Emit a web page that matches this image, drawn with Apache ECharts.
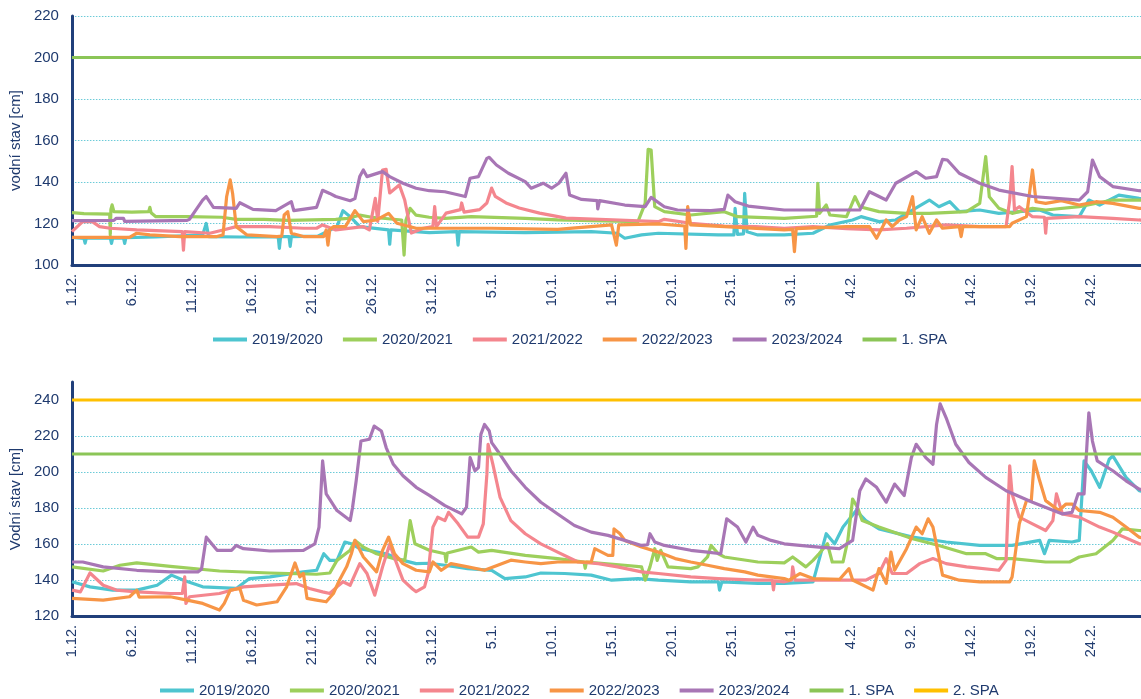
<!DOCTYPE html>
<html>
<head>
<meta charset="utf-8">
<script src="https://cdn.jsdelivr.net/npm/echarts@6/dist/echarts.min.js"></script>
<style>
html,body{margin:0;padding:0;background:#fff;}
#chart{width:1141px;height:699px;}
</style>
</head>
<body>
<div id="chart"></div>
<script>
// Day index 0 = 1 December; one unit = one day.
var xLabels = ['1.12.','6.12.','11.12.','16.12.','21.12.','26.12.','31.12.','5.1.','10.1.','15.1.','20.1.','25.1.','30.1.','4.2.','9.2.','14.2.','19.2.','24.2.'];
var seasons = ['2019/2020','2020/2021','2021/2022','2022/2023','2023/2024'];
var spa1Top = 200;
var spa1Bottom = 210;
var spa2Bottom = 240;
var seasonEnd = 91;

// Upper station water levels [day, cm]
var top2019 = [[0,113.3],[1,112.8],[1.1,110.5],[1.2,113],[3.2,113],[3.3,110.4],[3.4,113],[4.3,113],[4.4,110.4],[4.5,113.2],[7,113.5],[10.9,114.5],[11.2,120],[11.4,113.7],[14,113.5],[17.2,113.7],[17.3,108],[17.4,113.7],[18.1,113.7],[18.2,109],[18.3,113.7],[20.5,113.9],[21,115.3],[22.1,118.5],[22.6,126.2],[23.2,123.3],[24,118.5],[26.4,116.9],[26.5,110],[26.6,116.9],[29.8,115.6],[32.1,116.1],[32.2,109.6],[32.3,116.1],[37.8,115.6],[43.3,116.1],[45.5,115.3],[46.1,112.9],[47.5,114.5],[48.9,115.3],[53.9,114.5],[55.2,114.5],[55.3,127.3],[55.5,114.8],[56,115],[56.1,134.5],[56.3,116],[57.2,114.5],[59.4,114.5],[61.8,115.3],[63.2,119.3],[65.1,121.7],[65.8,123.3],[67.3,120.9],[68.7,121.7],[71.5,131.3],[72.3,128.1],[73.2,130.5],[74,125.7],[75.7,126.5],[77.3,124.9],[79,125.7],[80.7,126.5],[81.8,124.1],[84,123.3],[84.8,131.3],[85.7,128.9],[87.3,133.7],[89,132.1],[90,131.5]];
var top2020 = [[0,125.2],[1,124.8],[3.15,124.5],[3.2,114.5],[3.25,126.8],[3.35,129],[3.5,125.7],[5,125.5],[6.4,125.7],[6.5,127.8],[6.6,125.2],[7,123.3],[9.6,123.3],[12.5,123],[13.7,122],[16,122],[18,121.5],[22,122],[23,122.5],[24,124],[25,123],[27.5,121.7],[27.7,104.8],[27.85,121.5],[28.2,127.3],[28.7,124],[29.8,123],[31.1,122.5],[33.3,123.3],[37.8,122.5],[40.5,121.7],[47.2,120.9],[47.8,129.7],[48.05,155.7],[48.3,155.4],[48.6,128.1],[49.4,125.7],[51.6,124.1],[54.4,125.7],[55.5,123.3],[59.4,122.5],[62.1,123.5],[62.2,139.4],[62.35,124.9],[62.9,128.9],[63.2,124.1],[64.6,123.3],[65.3,132.9],[65.7,128.1],[67.3,125.7],[69.6,124.9],[71.5,124.9],[74.6,125.7],[75.7,129.7],[76.2,152.2],[76.5,132.9],[77.3,127.3],[78.4,124.9],[80.1,127.3],[81.2,126.5],[84,128.1],[86.8,131.3],[89,131.3],[90,131]];
var top2021 = [[0,116.1],[0.9,120.9],[1.7,120.9],[2.3,118.5],[3.2,117.7],[5.4,116.9],[9.2,116.1],[9.3,107.2],[9.4,116.1],[11.5,115.3],[12.6,116.9],[13.7,118.5],[16.5,118.5],[19.3,117.7],[20.4,117.7],[20.9,119.3],[22,116.9],[24.3,118.5],[24.8,116.9],[25.3,132.1],[25.5,121],[25.9,145.8],[26.2,146.1],[26.5,134.7],[27.3,138.6],[27.75,131.3],[28.3,115.4],[29.3,117.7],[30.1,118.5],[30.25,128.1],[30.4,118.5],[31.2,125],[32.4,126.7],[32.5,129.9],[32.7,125.5],[34,126.7],[34.6,129.9],[35,137.1],[35.3,133.1],[36.2,129.9],[37.3,127.5],[39,125],[41.2,122.6],[45.1,121.8],[48.9,120.9],[49.4,122],[51.6,120.1],[54.4,118.8],[57,118.5],[59.4,117.7],[61.8,118.5],[64.6,117.5],[67.3,116.9],[69.6,117.7],[72.9,119.3],[75.7,118.5],[77.9,118.5],[78.2,131.3],[78.4,147.4],[78.6,126.5],[79,128.1],[80.1,123.3],[81.1,123],[81.2,115.3],[81.3,122.5],[84,123.3],[86.8,122.5],[89,121.7],[90,121.5]];
var top2022 = [[0,113.3],[4.8,113.3],[5.4,115.3],[6.5,114.5],[9,113.7],[12.1,113.7],[12.6,114.5],[12.9,132.9],[13.2,141],[13.4,134.5],[13.7,118.5],[14.6,114.5],[17.1,113.7],[17.5,113.9],[17.7,124.1],[18,125.7],[18.3,115.3],[19.3,113.7],[21,113.7],[21.2,116.9],[21.35,109.6],[21.5,117],[21.8,118.5],[22.8,118.5],[23.6,126.2],[24.3,120.9],[25.4,121.7],[26.4,124.9],[27.1,120.1],[28.7,117.7],[29.8,117.7],[35,117.7],[40.5,117.2],[45,119.3],[45.4,109.6],[45.6,119.3],[48.9,119.8],[51.1,118.8],[51.2,108],[51.35,128.1],[51.6,119.3],[54.4,118.5],[59.4,116.9],[60.1,117.2],[60.25,106.4],[60.4,117.5],[64.6,118.5],[66.5,118.5],[67.1,112.9],[67.9,121.7],[68.4,118.5],[69,121.7],[69.6,123.3],[70.1,132.9],[70.4,116.9],[70.9,123.3],[71.5,115.3],[72.1,121.7],[72.6,117.7],[74,118.5],[74.15,113.7],[74.3,118.5],[76.2,118.5],[78.2,118.5],[78.4,120.1],[79.6,123.3],[80.1,145.8],[80.4,130.5],[81.2,129.7],[82.5,131],[84,128.9],[85.4,130.5],[86.8,129.7],[89,127.3],[90,127]];
var top2023 = [[0,121.4],[3.5,121.5],[3.7,122.5],[4.3,122.5],[4.4,121],[9.6,121.5],[9.8,122],[10.9,131.3],[11.2,133],[11.8,127.8],[13.7,127.3],[14,130],[15.1,126.8],[17,126.2],[18.3,130.5],[18.5,126.2],[20.4,127.8],[20.9,136],[21.5,134.5],[22,133],[23.2,131],[23.6,132],[24,142.6],[24.3,145.8],[24.6,142.6],[25.9,145],[26.5,142.6],[27.6,139.4],[28.7,137],[29.8,135.8],[31.1,135.3],[32.8,133],[33.2,141.8],[33.9,142.6],[34.6,151.4],[34.8,151.9],[35.4,148.2],[36.4,144.2],[37.8,140.2],[38.3,137],[39.3,139.4],[40,137],[40.6,139.4],[41.2,144.2],[41.5,133.7],[42.5,131.6],[43.8,131],[43.85,127],[44,131],[46.1,128.9],[47.8,128.1],[48.3,132.6],[49.4,128.1],[50.5,126.5],[53.3,126.2],[54.4,126.8],[54.7,133.7],[55.3,130.5],[56.4,128.4],[59.4,126.5],[65.7,126.5],[66.5,135.3],[67.9,131.3],[68.7,139.4],[70.4,145],[71.2,141.8],[72.1,142.6],[72.6,150.9],[73,150.6],[74,144.2],[75.7,139.4],[77.3,136.1],[80.1,133],[84,131.3],[84.7,135.3],[85.1,150.6],[85.7,142.6],[86.8,137.8],[89,135.8],[90,135.5]];

// Lower station water levels [day, cm]
var bot2019 = [[0,139],[1.5,136.2],[3.4,134.4],[5.4,134.4],[7.1,137.1],[8.3,142.7],[9.3,139.9],[10.9,136.2],[13.7,135.3],[14.8,140.8],[16.5,141.7],[19.3,144.5],[20.4,145.4],[21,154.6],[21.5,150.9],[22.1,150.9],[22.75,161.1],[23.3,160.1],[24,157.4],[26.2,154.6],[27.6,150.9],[28.7,149.1],[29.8,149.3],[31.1,148.2],[33,146.3],[35,145.4],[36.1,140.8],[37.8,141.7],[39.1,143.9],[41.1,143.6],[43.3,142.7],[45,139.9],[47.2,140.8],[48.9,139.9],[51.6,139],[53.9,139],[54,134.4],[54.2,139],[57.2,138.1],[59.4,138.1],[61.8,139],[62.9,165.7],[63.6,160.1],[64.3,169.4],[65.4,178.6],[66.2,173],[67.3,168.4],[70.1,163.8],[72.9,161.1],[75.7,159.2],[78.4,159.2],[80.7,162],[81.1,154.6],[81.5,162],[83.4,161.1],[84,162],[84.4,206.2],[85,200.7],[85.7,191.5],[86.5,207.1],[86.8,209],[87.9,197],[89,189.6],[90,188]];
var bot2020 = [[0,147.3],[2.6,145],[4,148.2],[5.4,149.5],[8.2,147.6],[12.3,145],[16.5,143.9],[20.4,143.2],[21.5,143.9],[22.1,150.9],[23.2,156.5],[23.6,162],[24.3,158.3],[25.4,154.6],[26.8,151.9],[27.75,150.9],[28.2,173],[28.6,160.1],[29.8,156.5],[31.1,154.6],[31.2,150],[31.3,155],[33.3,158.3],[33.9,155.5],[35,156.5],[37.8,153.7],[40.5,151.9],[42.7,150],[42.8,146.5],[42.9,150],[46.1,148.2],[47.5,147.3],[47.8,139.9],[48.2,147.3],[48.6,157.4],[48.8,150.9],[49.1,156.5],[49.7,147.3],[51.6,146.3],[52.2,147.3],[53,152.8],[53.3,159.2],[53.9,154.6],[54.4,152.8],[57.2,150],[59.4,149.5],[60.1,152.8],[61.2,147.3],[61.8,150.9],[62.3,154.6],[63,160.1],[63.4,150],[64.3,150],[64.7,162],[65.1,185],[65.5,180.4],[65.9,173],[67.3,169.4],[70.1,162.9],[72.3,159.2],[74.6,154.6],[76.2,154.6],[77.1,151.9],[78.4,151.9],[81.2,150],[83.2,150],[84,152.8],[85.4,154.6],[86.8,162],[87.6,168.4],[89,167.5],[90,167]];
var bot2021 = [[0,134.4],[0.7,133.4],[1.5,143.9],[2.6,137.1],[3.7,134.4],[5.4,133.4],[8.2,132.5],[9.2,132.5],[9.4,141.7],[9.5,127],[9.8,130.7],[12.3,132.5],[14.3,136.2],[16.5,137.1],[18.7,138],[19.8,135.3],[20.9,133.4],[21.5,132.5],[22.1,136.2],[22.6,139],[23.2,137.1],[24,149.1],[24.6,143.6],[25.25,131.6],[25.9,147.3],[26.5,160],[26.8,154],[27.6,139.9],[28.4,135],[28.7,133.5],[29.4,136.2],[29.7,143.6],[30.1,169.4],[30.5,174.9],[31.1,173],[31.4,177.6],[32.2,171.2],[33,163.8],[33.9,163.8],[34.3,171.2],[34.6,198.8],[34.7,215.4],[35.1,204.3],[35.7,185.9],[36.6,173],[37.8,165.7],[39.1,160.1],[40.5,155.5],[42.2,150],[43.9,149.1],[45.5,147.3],[47.5,144.5],[48.9,143.6],[51.6,141.7],[53.9,140.8],[57.2,139.9],[58.4,139.9],[58.5,134.5],[58.6,139.5],[59.4,139],[60,139.9],[60.1,147.3],[60.3,139.9],[61.8,139.9],[64.6,139.9],[66.2,139.9],[67.3,143.6],[67.9,151.9],[68.4,143.6],[69.6,143.6],[70.7,149.1],[71.8,151.9],[72.9,149.1],[74.6,147.3],[77.3,145.4],[77.9,150.9],[78.2,203.4],[78.4,187.8],[79,174.9],[80.1,171.2],[81.2,167.5],[81.8,173],[82.1,187.8],[82.6,176.7],[84,174.9],[85.7,169.4],[86.8,166.6],[89,160.1],[90,159.5]];
var bot2022 = [[0,129.8],[2.6,128.8],[4.8,130.7],[5.4,134.4],[5.6,130.5],[8.2,130.7],[9.6,128.8],[10.9,127],[12.3,123.3],[12.7,127],[13.2,134.4],[14,135.3],[14.3,128.8],[15.4,126.1],[17.1,127.9],[17.9,136.2],[18.6,149.5],[19,141.7],[19.3,143.6],[19.6,129.8],[20.4,128.8],[21.2,127.9],[21.8,132.5],[22.3,139.9],[22.9,147.3],[23.3,154.6],[23.6,162],[24.3,152.8],[25.4,144.5],[25.9,156.5],[26.4,163.8],[26.9,154.6],[27.6,149.1],[28.7,145.4],[29.8,144.5],[30.1,150],[30.8,145.4],[31.6,149.1],[33,147.3],[34.4,145.4],[35.5,148.2],[36.6,151],[37.8,150],[39.1,149.1],[40.5,150],[43.3,150],[43.6,157.4],[44.7,153.7],[45.1,153.7],[45.2,168.4],[45.7,165.7],[46.1,162],[47.5,158.3],[48.9,155.5],[50.3,151.9],[51.6,150],[53,148.2],[54.4,146.3],[56.1,144.5],[57.2,142.7],[59.4,140.8],[59.8,139.9],[60.7,143.6],[61.8,140.8],[64,140.3],[64.8,146.3],[65.1,140],[66.8,134.4],[67.3,146.3],[67.9,138.1],[68.3,155.5],[68.6,145.4],[69.6,157.4],[70.4,169.4],[70.9,165.7],[71.4,174],[71.8,169.4],[72.3,152.8],[72.6,142.7],[74,139.9],[75.7,139],[78.2,139],[78.4,141.7],[79,171.2],[79.6,184.1],[80,184.1],[80.25,206.2],[80.7,195.1],[81.2,184.1],[82.3,178.6],[82.9,182.2],[83.4,182.2],[84,178.6],[85.7,177.6],[86.8,174.9],[87.9,169.4],[89,163.8],[90,162]];
var bot2023 = [[0,150],[0.9,150],[2.6,147.3],[5.4,145.4],[8.2,144.5],[10.5,144.5],[10.8,146],[11.2,163.8],[12.1,156.5],[13.3,156.5],[13.7,159.2],[14.3,157.4],[16.5,156.1],[19.3,156.5],[20.25,160.1],[20.6,169.4],[20.9,206.2],[21.2,187.8],[22.1,178.6],[23.2,173],[23.4,180.4],[23.7,195.1],[24.1,217.2],[24.8,218.2],[25.2,225.5],[25.8,222.8],[26.2,213.6],[26.8,204.3],[27.6,197.9],[28.7,191.5],[29.8,187],[31.1,181.3],[32.5,176.7],[32.9,180.4],[33.2,208],[33.6,200.7],[33.9,202.5],[34.1,220.9],[34.4,226.4],[34.8,222.8],[35,216.3],[35.5,211.7],[36.6,200.7],[37.8,191.5],[39.1,183.2],[40.5,176.7],[41.9,170.3],[43.3,166.6],[44.7,164.8],[46.1,162],[47.5,159.2],[48,159.6],[48.2,165.7],[48.6,161.1],[49.4,159.2],[51.6,156.5],[53,155.5],[54.1,154.6],[54.6,174],[55.5,169.4],[56.2,161.1],[56.8,169.4],[57.2,164.8],[58.3,162],[59.4,160.1],[60.7,159.2],[62.3,158.3],[64,157.4],[65.1,162],[65.7,189.6],[66.2,196.1],[67.1,191.5],[67.9,183.2],[68.6,193.3],[69.4,186.9],[70,208],[70.4,215.4],[71.2,208],[71.8,204.3],[72.1,226.4],[72.4,237.9],[72.9,230.1],[73.7,215.4],[74.8,205.3],[76.2,197],[77.9,189.6],[80.1,183.2],[82.6,176.7],[83.4,177.6],[83.9,187.8],[84.4,187.8],[84.8,232.9],[85.1,217.2],[85.5,206.2],[86.8,200.7],[87.9,195.1],[89,190.5],[90,189]];

var topData = [top2019, top2020, top2021, top2022, top2023];
var bottomData = [bot2019, bot2020, bot2021, bot2022, bot2023];

var seasonColors = ['#4ec5d0', '#9dcf5c', '#f4868e', '#f79546', '#a876b5'];
var spa1Color = '#8bc557';
var spa2Color = '#ffc000';
var inkColor = '#1f3a6e';
var axisColor = '#203f7a';
var gridColor = '#6ccbd8';
var FONT = '"Liberation Sans", Arial, sans-serif';
var X_MAX = 89.15;

function dayLabel(v) {
  var i = Math.round(v / 5);
  if (Math.abs(v - i * 5) < 1e-6 && xLabels[i]) return xLabels[i];
  return '';
}

function xAxisFor(gridIndex) {
  return {
    type: 'value', gridIndex: gridIndex, min: 0, max: X_MAX, interval: 5,
    axisLine: { show: true, onZero: false, lineStyle: { color: axisColor, width: 3 } },
    axisTick: { show: false },
    splitLine: { show: false },
    axisLabel: {
      rotate: 90, margin: 9, fontSize: 14.5, color: inkColor, fontFamily: FONT,
      showMaxLabel: false, formatter: dayLabel
    }
  };
}

function yAxisFor(gridIndex, min, max, name, showMax) {
  return {
    type: 'value', gridIndex: gridIndex, min: min, max: max, interval: 20,
    name: name, nameLocation: 'middle', nameGap: 41,
    nameTextStyle: { fontSize: 15, color: inkColor, fontFamily: FONT },
    axisLine: { show: true, lineStyle: { color: axisColor, width: 3 } },
    axisTick: { show: false },
    axisLabel: { fontSize: 15, color: inkColor, fontFamily: FONT, margin: 13, showMaxLabel: showMax },
    splitLine: {
      show: true, showMinLine: false, showMaxLine: showMax,
      lineStyle: { color: gridColor, type: [1.5, 1.5], width: 1 }
    }
  };
}

function seasonSeries(dataSets, axisIndex) {
  return dataSets.map(function (d, i) {
    return {
      name: seasons[i], type: 'line', xAxisIndex: axisIndex, yAxisIndex: axisIndex,
      data: d, showSymbol: false, symbol: 'none',
      color: seasonColors[i],
      lineStyle: { width: 3.2, color: seasonColors[i], join: 'round' },
      emphasis: { disabled: true }
    };
  });
}

function levelSeries(name, level, color, axisIndex) {
  return {
    name: name, type: 'line', xAxisIndex: axisIndex, yAxisIndex: axisIndex,
    data: [[0, level], [seasonEnd, level]], showSymbol: false, symbol: 'none',
    color: color, lineStyle: { width: 3, color: color },
    emphasis: { disabled: true }, z: 3
  };
}

function legendFor(left, top, names) {
  return {
    left: left, top: top, data: names, icon: 'rect', itemWidth: 34, itemHeight: 4,
    itemGap: 20, padding: 0, selectedMode: false,
    textStyle: { fontSize: 15, color: inkColor, fontFamily: FONT }
  };
}

var chart = echarts.init(document.getElementById('chart'), null, { renderer: 'canvas' });

chart.setOption({
  animation: false,
  backgroundColor: '#ffffff',
  grid: [
    { left: 71, top: 16, right: 0, height: 249, containLabel: false },
    { left: 72, top: 382, right: 0, height: 234, containLabel: false }
  ],
  legend: [
    legendFor(213, 332, seasons.concat(['1. SPA'])),
    legendFor(160, 683, seasons.concat(['1. SPA', '2. SPA']))
  ],
  xAxis: [xAxisFor(0), xAxisFor(1)],
  yAxis: [
    yAxisFor(0, 100, 220, 'vodní stav [cm]', true),
    yAxisFor(1, 120, 250, 'Vodní stav [cm]', false)
  ],
  series: []
    .concat(seasonSeries(topData, 0))
    .concat([levelSeries('1. SPA', spa1Top, spa1Color, 0)])
    .concat(seasonSeries(bottomData, 1))
    .concat([
      levelSeries('1. SPA', spa1Bottom, spa1Color, 1),
      levelSeries('2. SPA', spa2Bottom, spa2Color, 1)
    ])
});
</script>
</body>
</html>
